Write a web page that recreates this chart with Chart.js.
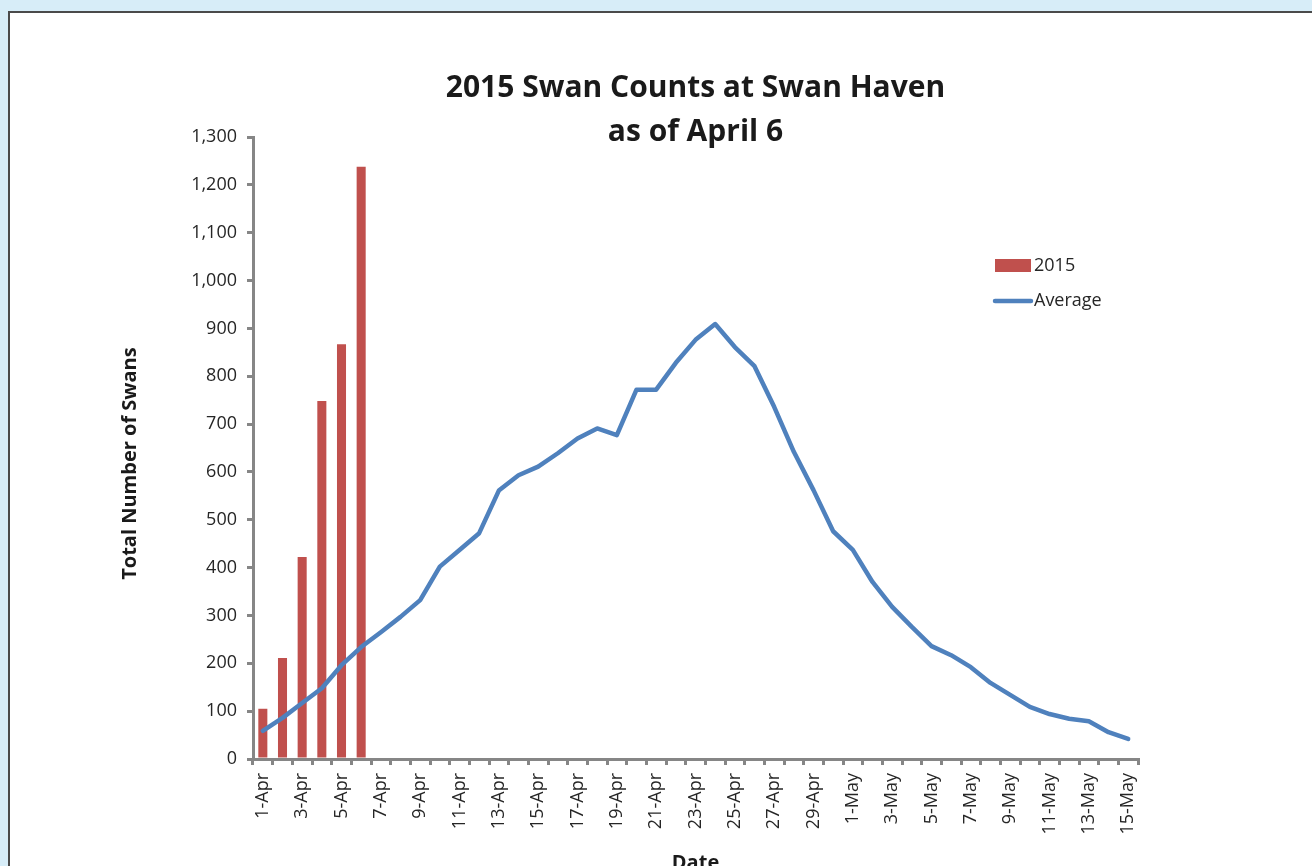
<!DOCTYPE html>
<html><head><meta charset="utf-8">
<script src="https://cdn.jsdelivr.net/npm/chart.js@4/dist/chart.umd.min.js"></script>
<style>
html,body{margin:0;padding:0;width:1312px;height:866px;overflow:hidden;background:#d7edf8;}
#panel{position:absolute;left:8px;top:11px;width:1400px;height:900px;background:#fff;border-left:2px solid #4a4a4a;border-top:2px solid #4a4a4a;}
#wrap{position:absolute;left:0;top:0;width:1312px;height:880px;}
</style></head>
<body><div id="panel"></div><div id="wrap"><canvas id="c" width="1312" height="880"></canvas></div>
<script>
const categories = ['1-Apr','2-Apr','3-Apr','4-Apr','5-Apr','6-Apr','7-Apr','8-Apr','9-Apr','10-Apr',
  '11-Apr','12-Apr','13-Apr','14-Apr','15-Apr','16-Apr','17-Apr','18-Apr','19-Apr','20-Apr',
  '21-Apr','22-Apr','23-Apr','24-Apr','25-Apr','26-Apr','27-Apr','28-Apr','29-Apr','30-Apr',
  '1-May','2-May','3-May','4-May','5-May','6-May','7-May','8-May','9-May','10-May',
  '11-May','12-May','13-May','14-May','15-May'];
const counts2015 = [105, 211, 422, 748, 867, 1238];
const average = [59, 86, 117, 148, 196, 234, 265, 297, 332, 402,
  437, 472, 561, 593, 611, 639, 670, 691, 677, 772,
  772, 828, 876, 909, 861, 821, 736, 642, 562, 476,
  437, 370, 318, 276, 236, 217, 192, 159, 134, 109,
  94, 84, 79, 56, 42];
const yTicks = [0,100,200,300,400,500,600,700,800,900,1000,1100,1200,1300];
const titleLines = ['2015 Swan Counts at Swan Haven', 'as of April 6'];

const FONT = 'Open Sans';
const AXIS = '#868686';
const TEXT = '#262626';

const insideLegend = {
  id: 'insideLegend',
  afterDraw(chart) {
    const ctx = chart.ctx;
    const ds = chart.data.datasets;
    ctx.save();
    ctx.font = '18px "' + FONT + '"';
    ctx.textBaseline = 'middle';
    ctx.textAlign = 'left';
    ctx.fillStyle = ds[0].backgroundColor;
    ctx.fillRect(995, 259, 36, 13);
    ctx.fillStyle = TEXT;
    ctx.fillText(ds[0].label, 1034, 266);
    ctx.strokeStyle = ds[1].borderColor;
    ctx.lineWidth = 4.5;
    ctx.lineCap = 'round';
    ctx.beginPath();
    ctx.moveTo(995, 301);
    ctx.lineTo(1031, 301);
    ctx.stroke();
    ctx.fillStyle = TEXT;
    ctx.fillText(ds[1].label, 1034, 301);
    ctx.restore();
  }
};

new Chart(document.getElementById('c'), {
  type: 'bar',
  data: {
    labels: categories,
    datasets: [
      {
        type: 'bar', label: '2015', data: counts2015,
        backgroundColor: '#c0504d', borderWidth: 0,
        barPercentage: 0.46, categoryPercentage: 1.0, order: 2
      },
      {
        type: 'line', label: 'Average', data: average,
        borderColor: '#4f81bd', backgroundColor: '#4f81bd', borderWidth: 4.5,
        pointRadius: 0, tension: 0, borderJoinStyle: 'round', borderCapStyle: 'round',
        fill: false, order: 1
      }
    ]
  },
  options: {
    responsive: false,
    animation: false,
    devicePixelRatio: 1,
    layout: { padding: { left: 100, right: 174, top: 0, bottom: 0 } },
    plugins: {
      legend: { display: false },
      tooltip: { enabled: false },
      title: {
        display: true, text: titleLines, fullSize: false, color: '#1a1a1a',
        font: { family: FONT, size: 30, weight: 'bold', lineHeight: 44/30 },
        padding: { top: 66, bottom: -17 }
      }
    },
    scales: {
      x: {
        type: 'category',
        afterFit(s) { s.height = 121; },
        grid: { offset: true, drawOnChartArea: false, drawTicks: true, tickLength: 6, color: AXIS, lineWidth: 3 },
        border: { display: true, color: AXIS, width: 3 },
        ticks: {
          autoSkip: false, maxRotation: 90, minRotation: 90, padding: 8, color: TEXT,
          font: { family: FONT, size: 18 },
          callback(v, i) { return i % 2 === 0 ? categories[i] : ''; }
        },
        title: {
          display: true, text: 'Date', color: '#1a1a1a',
          font: { family: FONT, size: 20, weight: 'bold', lineHeight: 1.2 },
          padding: { top: 0, bottom: 5 }
        }
      },
      y: {
        min: 0, max: 1300,
        afterFit(s) { s.width = 153; },
        afterBuildTicks(s) { s.ticks = yTicks.map(v => ({ value: v })); },
        grid: { drawOnChartArea: false, drawTicks: true, tickLength: 6, color: AXIS, lineWidth: 3 },
        border: { display: true, color: AXIS, width: 3 },
        ticks: {
          padding: 10, color: TEXT, font: { family: FONT, size: 18 },
          callback(v) { return Number(v).toLocaleString('en-US'); }
        },
        title: {
          display: true, text: 'Total Number of Swans' + '\u00a0'.repeat(6), color: '#1a1a1a',
          font: { family: FONT, size: 20, weight: 'bold', lineHeight: 1.2 },
          padding: { top: 18, bottom: 0 }
        }
      }
    }
  },
  plugins: [insideLegend]
});
</script>
</body></html>
